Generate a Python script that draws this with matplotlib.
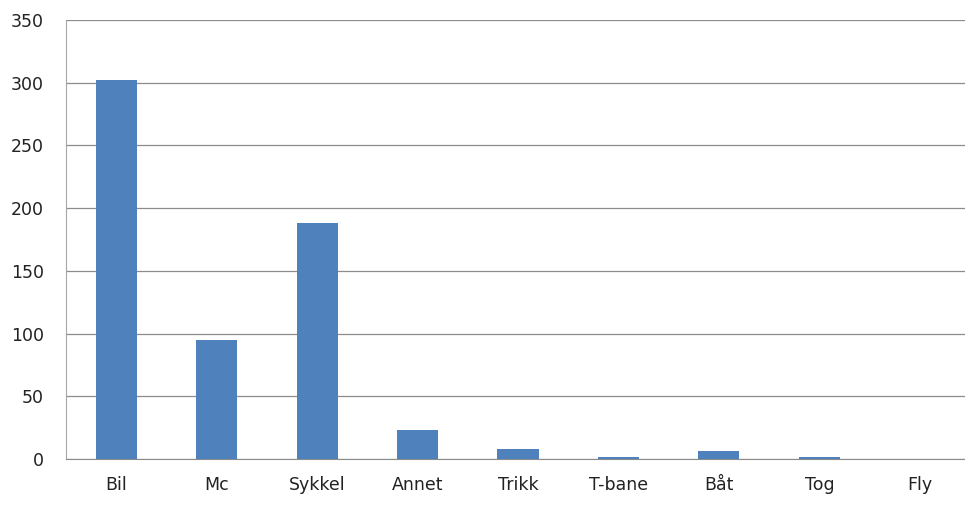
import numpy as np
import matplotlib
matplotlib.use("Agg")
from matplotlib import pyplot as plt

categories = ["Bil", "Mc", "Sykkel", "Annet", "Trikk", "T-bane", "Båt", "Tog", "Fly"]
values = [302, 95, 188, 23, 8, 1.5, 6, 1.5, 0]
yticks = [0, 50, 100, 150, 200, 250, 300, 350]

plt.rcParams['font.family'] = ['DejaVu Sans']

fig = plt.figure(figsize=(9.65, 5.05), dpi=100)
ax = fig.add_axes([66/965, 46/505, 904/965, 439/505])

x = np.arange(len(categories))
ax.bar(x, values, width=0.41, color='#4F81BD', zorder=3)

ax.set_xlim(-0.5, len(categories) - 0.5)
ax.set_ylim(0, 350)
ax.set_yticks(yticks)
ax.set_xticks(x)
ax.set_xticklabels(categories)
ax.yaxis.grid(True, color='#8c8c8c', linewidth=0.9, zorder=0)
ax.tick_params(axis='both', length=0, labelsize=12.5, colors='#222222')
ax.tick_params(axis='x', pad=12)
ax.tick_params(axis='y', pad=16)

for s in ['top', 'right']:
    ax.spines[s].set_visible(False)
ax.spines['left'].set_color('#a6a6a6')
ax.spines['bottom'].set_color('#8c8c8c')

fig.savefig("out.png", dpi=100)
